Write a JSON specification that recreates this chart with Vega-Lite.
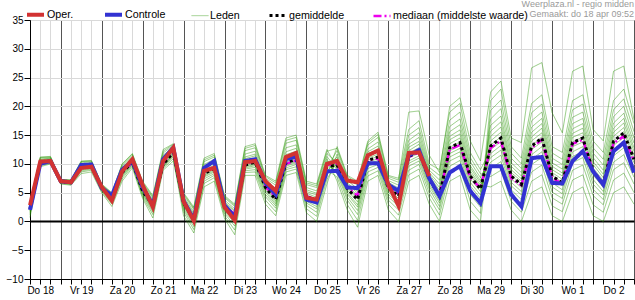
{
"$schema": "https://vega.github.io/schema/vega-lite/v6.json",
"width": 604, "height": 259,
"autosize": {"type": "none"},
"padding": {"left": 30, "top": 20, "right": 1, "bottom": 21},
"background": "white",
"title": {"text": ["Weerplaza.nl - regio midden", "Gemaakt: do 18 apr 09:52"], "anchor": "end", "frame": "group", "fontSize": 9, "font": "Liberation Sans", "fontWeight": "normal", "color": "#9a9a9a", "lineHeight": 10, "offset": 2, "dy": 17},
"config": {"view": {"stroke": "#000", "strokeWidth": 1}, "font": "Liberation Sans"},
"datasets": {"keys": [
{"key":"a","s":"ld"},{"key":"b","s":"ld"},{"key":"c","s":"ld"},{"key":"d","s":"ld"},{"key":"e","s":"ld"},{"key":"f","s":"ld"},{"key":"g","s":"ld"},{"key":"h","s":"ld"},
{"key":"i","s":"ld"},{"key":"j","s":"ld"},{"key":"k","s":"ld"},{"key":"l","s":"ld"},{"key":"m","s":"ld"},{"key":"n","s":"ld"},{"key":"o","s":"ld"},{"key":"p","s":"ld"},
{"key":"md","s":"md"},{"key":"gm","s":"gm"},{"key":"ct","s":"ct"},{"key":"op","s":"op"}]},
"data": {"values": [
{"t":6,"op":2.8,"ct":2.0,"gm":2.2,"md":2.2,"a":0.7,"b":1.1,"c":1.4,"d":1.6,"e":1.8,"f":1.9,"g":2.1,"h":2.2,"i":2.3,"j":2.5,"k":2.6,"l":2.7,"m":2.9,"n":3.1,"o":3.4,"p":3.3},
{"t":12,"op":10.4,"ct":10.0,"gm":10.2,"md":10.2,"a":9.5,"b":9.7,"c":9.8,"d":9.9,"e":10.0,"f":10.1,"g":10.1,"h":10.2,"i":10.3,"j":10.4,"k":10.5,"l":10.7,"m":10.8,"n":11.0,"o":11.2,"p":11.1},
{"t":18,"op":10.5,"ct":10.5,"gm":10.5,"md":10.5,"a":10.0,"b":10.1,"c":10.2,"d":10.3,"e":10.4,"f":10.4,"g":10.5,"h":10.5,"i":10.6,"j":10.7,"k":10.8,"l":10.9,"m":11.0,"n":11.1,"o":11.3,"p":11.2},
{"t":24,"op":7.0,"ct":7.0,"gm":6.9,"md":6.9,"a":6.5,"b":6.6,"c":6.7,"d":6.7,"e":6.8,"f":6.8,"g":6.9,"h":6.9,"i":6.9,"j":7.0,"k":7.0,"l":7.1,"m":7.1,"n":7.2,"o":7.3,"p":7.3},
{"t":30,"op":6.8,"ct":6.8,"gm":6.8,"md":6.8,"a":6.3,"b":6.4,"c":6.5,"d":6.6,"e":6.7,"f":6.7,"g":6.8,"h":6.8,"i":6.8,"j":6.9,"k":6.9,"l":7.0,"m":7.0,"n":7.1,"o":7.2,"p":7.2},
{"t":36,"op":9.3,"ct":9.8,"gm":9.5,"md":9.5,"a":8.3,"b":8.6,"c":8.8,"d":9.0,"e":9.2,"f":9.3,"g":9.4,"h":9.5,"i":9.6,"j":9.7,"k":9.8,"l":10.0,"m":10.1,"n":10.3,"o":10.5,"p":10.4},
{"t":42,"op":9.5,"ct":9.9,"gm":9.6,"md":9.6,"a":8.6,"b":8.9,"c":9.1,"d":9.2,"e":9.3,"f":9.4,"g":9.5,"h":9.6,"i":9.7,"j":9.8,"k":9.9,"l":10.1,"m":10.2,"n":10.4,"o":10.6,"p":10.5},
{"t":48,"op":6.0,"ct":5.8,"gm":5.8,"md":5.8,"a":5.0,"b":5.2,"c":5.4,"d":5.5,"e":5.6,"f":5.7,"g":5.7,"h":5.8,"i":5.9,"j":6.0,"k":6.0,"l":6.1,"m":6.2,"n":6.3,"o":6.5,"p":6.4},
{"t":54,"op":3.6,"ct":4.5,"gm":4.0,"md":4.0,"a":2.6,"b":3.0,"c":3.2,"d":3.4,"e":3.6,"f":3.7,"g":3.9,"h":4.0,"i":4.1,"j":4.2,"k":4.3,"l":4.5,"m":4.6,"n":4.8,"o":5.0,"p":4.9},
{"t":60,"op":8.7,"ct":9.0,"gm":8.5,"md":8.5,"a":7.0,"b":7.4,"c":7.7,"d":7.9,"e":8.1,"f":8.2,"g":8.4,"h":8.5,"i":8.7,"j":8.8,"k":9.0,"l":9.2,"m":9.4,"n":9.7,"o":10.0,"p":9.9},
{"t":66,"op":10.8,"ct":10.5,"gm":10.3,"md":10.3,"a":9.3,"b":9.6,"c":9.8,"d":9.9,"e":10.0,"f":10.1,"g":10.2,"h":10.3,"i":10.5,"j":10.6,"k":10.8,"l":11.0,"m":11.2,"n":11.5,"o":11.8,"p":11.7},
{"t":72,"op":6.3,"ct":6.0,"gm":5.3,"md":5.6,"a":4.0,"b":4.3,"c":4.6,"d":4.8,"e":4.9,"f":5.1,"g":5.2,"h":5.3,"i":5.5,"j":5.7,"k":5.9,"l":6.1,"m":6.3,"n":6.6,"o":7.0,"p":6.8},
{"t":78,"op":2.5,"ct":2.8,"gm":2.8,"md":3.0,"a":0.6,"b":1.2,"c":1.6,"d":1.9,"e":2.2,"f":2.4,"g":2.6,"h":2.8,"i":3.0,"j":3.2,"k":3.4,"l":3.6,"m":3.8,"n":4.1,"o":4.5,"p":4.3},
{"t":84,"op":10.5,"ct":10.8,"gm":9.9,"md":10.1,"a":8.9,"b":9.2,"c":9.4,"d":9.5,"e":9.6,"f":9.7,"g":9.8,"h":10.0,"i":10.2,"j":10.5,"k":10.8,"l":11.1,"m":11.5,"n":11.9,"o":12.5,"p":12.2},
{"t":90,"op":12.8,"ct":12.8,"gm":12.0,"md":12.2,"a":10.5,"b":10.9,"c":11.2,"d":11.4,"e":11.6,"f":11.7,"g":11.9,"h":12.0,"i":12.2,"j":12.3,"k":12.5,"l":12.7,"m":12.9,"n":13.2,"o":13.5,"p":13.4},
{"t":96,"op":3.5,"ct":3.6,"gm":3.2,"md":3.3,"a":2.3,"b":1.0,"c":2.8,"d":1.6,"e":3.4,"f":2.0,"g":4.0,"h":2.6,"i":5.0,"j":3.0,"k":3.6,"l":4.6,"m":3.2,"n":4.3,"o":3.8,"p":4.8},
{"t":102,"op":0.1,"ct":0.3,"gm":0.5,"md":0.6,"a":-0.5,"b":-2.0,"c":0.1,"d":-1.4,"e":0.7,"f":-0.9,"g":1.4,"h":-0.2,"i":2.5,"j":0.3,"k":0.9,"l":2.1,"m":0.5,"n":1.7,"o":1.2,"p":2.3},
{"t":108,"op":8.8,"ct":9.3,"gm":8.3,"md":8.5,"a":7.4,"b":6.0,"c":7.9,"d":6.6,"e":8.6,"f":7.0,"g":9.5,"h":7.7,"i":11.0,"j":8.1,"k":8.9,"l":10.4,"m":8.4,"n":9.9,"o":9.2,"p":10.7},
{"t":114,"op":9.3,"ct":10.5,"gm":9.2,"md":9.5,"a":8.3,"b":7.0,"c":8.8,"d":7.6,"e":9.5,"f":8.0,"g":10.4,"h":8.6,"i":11.8,"j":9.0,"k":9.8,"l":11.2,"m":9.3,"n":10.8,"o":10.1,"p":11.5},
{"t":120,"op":2.5,"ct":2.8,"gm":2.5,"md":2.6,"a":1.7,"b":0.5,"c":2.1,"d":1.0,"e":2.7,"f":1.4,"g":3.4,"h":1.9,"i":4.5,"j":2.3,"k":2.9,"l":4.1,"m":2.5,"n":3.7,"o":3.2,"p":4.3},
{"t":126,"op":0.2,"ct":0.8,"gm":1.0,"md":1.3,"a":-0.3,"b":-2.3,"c":0.4,"d":-1.5,"e":1.2,"f":-0.8,"g":1.9,"h":0.1,"i":3.0,"j":0.7,"k":1.4,"l":2.6,"m":1.0,"n":2.2,"o":1.7,"p":2.8},
{"t":132,"op":10.3,"ct":10.5,"gm":9.8,"md":10.0,"a":9.1,"b":8.0,"c":9.5,"d":8.5,"e":10.2,"f":8.8,"g":11.2,"h":9.3,"i":13.0,"j":9.7,"k":10.5,"l":12.3,"m":9.9,"n":11.7,"o":10.9,"p":12.7},
{"t":138,"op":10.5,"ct":10.8,"gm":10.3,"md":10.5,"a":9.4,"b":8.0,"c":9.9,"d":8.6,"e":10.7,"f":9.0,"g":11.7,"h":9.7,"i":13.5,"j":10.1,"k":11.0,"l":12.8,"m":10.4,"n":12.2,"o":11.4,"p":13.2},
{"t":144,"op":7.0,"ct":6.7,"gm":5.9,"md":6.0,"a":4.7,"b":3.0,"c":5.4,"d":3.7,"e":6.2,"f":4.3,"g":6.8,"h":5.1,"i":8.0,"j":5.7,"k":6.4,"l":7.5,"m":5.9,"n":7.2,"o":6.6,"p":7.8},
{"t":150,"op":5.3,"ct":4.7,"gm":3.8,"md":4.3,"a":2.7,"b":1.0,"c":3.3,"d":1.7,"e":4.2,"f":2.3,"g":5.2,"h":3.0,"i":7.0,"j":3.6,"k":4.5,"l":6.3,"m":3.9,"n":5.7,"o":4.9,"p":6.7},
{"t":156,"op":11.2,"ct":10.8,"gm":10.2,"md":10.0,"a":9.3,"b":8.0,"c":9.8,"d":8.6,"e":10.7,"f":9.0,"g":12.1,"h":9.6,"i":14.5,"j":10.0,"k":11.1,"l":13.6,"m":10.3,"n":12.8,"o":11.6,"p":14.1},
{"t":162,"op":11.9,"ct":11.3,"gm":10.8,"md":10.6,"a":9.9,"b":8.5,"c":10.4,"d":9.1,"e":11.3,"f":9.5,"g":12.7,"h":10.2,"i":15.0,"j":10.6,"k":11.7,"l":14.1,"m":10.9,"n":13.3,"o":12.2,"p":14.6},
{"t":168,"op":4.1,"ct":3.8,"gm":4.3,"md":4.4,"a":3.2,"b":1.5,"c":3.8,"d":2.2,"e":4.6,"f":2.8,"g":5.5,"h":3.5,"i":7.0,"j":4.1,"k":4.9,"l":6.4,"m":4.4,"n":5.9,"o":5.2,"p":6.7},
{"t":174,"op":3.8,"ct":3.3,"gm":3.6,"md":3.7,"a":2.2,"b":0.0,"c":3.0,"d":0.9,"e":3.9,"f":1.6,"g":4.9,"h":2.6,"i":6.5,"j":3.3,"k":4.2,"l":5.9,"m":3.7,"n":5.3,"o":4.6,"p":6.2},
{"t":180,"op":10.0,"ct":8.7,"gm":9.5,"md":9.8,"a":8.3,"b":6.5,"c":9.0,"d":7.3,"e":9.9,"f":7.9,"g":10.9,"h":8.7,"i":12.5,"j":9.3,"k":10.2,"l":11.8,"m":9.6,"n":11.3,"o":10.5,"p":12.2},
{"t":186,"op":10.5,"ct":8.8,"gm":9.8,"md":10.0,"a":9.9,"b":11.7,"c":7.7,"d":10.5,"e":8.7,"f":13.0,"g":7.0,"h":10.9,"i":9.3,"j":12.3,"k":8.3,"l":10.2,"m":11.2,"n":9.0,"o":9.6,"p":12.7},
{"t":192,"op":7.1,"ct":5.9,"gm":5.7,"md":5.9,"a":5.7,"b":7.1,"c":2.9,"d":6.2,"e":4.2,"f":8.0,"g":2.0,"h":6.5,"i":5.0,"j":7.5,"k":3.7,"l":6.0,"m":6.7,"n":4.7,"o":5.4,"p":7.8},
{"t":198,"op":6.8,"ct":5.8,"gm":3.8,"md":4.5,"a":3.9,"b":5.7,"c":0.2,"d":4.5,"e":1.9,"f":7.0,"g":-1.0,"h":4.9,"i":2.9,"j":6.3,"k":1.2,"l":4.2,"m":5.2,"n":2.5,"o":3.4,"p":6.7},
{"t":204,"op":11.5,"ct":10.1,"gm":10.6,"md":10.6,"a":10.7,"b":12.6,"c":7.9,"d":11.3,"e":9.2,"f":14.0,"g":7.0,"h":11.7,"i":10.0,"j":13.3,"k":8.6,"l":11.0,"m":12.1,"n":9.6,"o":10.3,"p":13.7},
{"t":210,"op":12.3,"ct":10.1,"gm":11.2,"md":11.0,"a":11.3,"b":13.8,"c":8.8,"d":12.1,"e":9.9,"f":15.5,"g":8.0,"h":12.6,"i":10.6,"j":14.6,"k":9.4,"l":11.7,"m":13.1,"n":10.3,"o":10.9,"p":15.1},
{"t":216,"op":6.4,"ct":6.4,"gm":5.8,"md":5.9,"a":5.8,"b":7.1,"c":3.0,"d":6.3,"e":4.3,"f":8.0,"g":2.0,"h":6.5,"i":5.1,"j":7.5,"k":3.7,"l":6.1,"m":6.8,"n":4.7,"o":5.5,"p":7.8},
{"t":222,"op":2.7,"ct":5.3,"gm":4.4,"md":4.8,"a":4.5,"b":6.3,"c":1.1,"d":5.1,"e":2.6,"f":7.5,"g":0.0,"h":5.4,"i":3.6,"j":6.8,"k":2.0,"l":4.8,"m":5.8,"n":3.2,"o":4.0,"p":7.2},
{"t":228,"op":11.9,"ct":11.5,"gm":11.3,"md":11.2,"a":11.4,"b":14.1,"c":8.1,"d":12.3,"e":9.6,"f":16.0,"g":7.0,"h":12.9,"i":10.5,"j":15.0,"k":8.9,"l":11.9,"m":13.4,"n":10.1,"o":11.0,"p":19.0},
{"t":234,"op":12.0,"ct":12.4,"gm":12.2,"md":12.0,"a":12.3,"b":15.4,"c":9.1,"d":13.4,"e":10.5,"f":17.5,"g":8.0,"h":13.9,"i":11.4,"j":16.3,"k":9.9,"l":12.8,"m":14.6,"n":11.0,"o":11.9,"p":19.2},
{"t":240,"op":7.9,"ct":7.5,"gm":7.3,"md":7.4,"a":7.4,"b":8.9,"c":4.1,"d":7.9,"e":5.6,"f":10.0,"g":3.0,"h":8.2,"i":6.5,"j":9.4,"k":4.9,"l":7.6,"m":8.5,"n":6.1,"o":7.0,"p":11.5},
{"t":246,"ct":4.4,"gm":4.4,"md":4.6,"a":4.5,"b":7.2,"c":1.1,"d":5.4,"e":2.6,"f":9.0,"g":0.0,"h":5.9,"i":3.6,"j":8.0,"k":2.0,"l":5.0,"m":6.5,"n":3.2,"o":4.0,"p":8.5},
{"t":252,"ct":8.5,"gm":12.8,"md":12.5,"a":12.9,"b":16.5,"c":8.5,"d":14.2,"e":10.5,"f":19.0,"g":7.0,"h":14.8,"i":11.8,"j":17.6,"k":9.6,"l":13.5,"m":15.6,"n":11.2,"o":12.3,"p":20.0},
{"t":258,"ct":9.6,"gm":13.7,"md":13.3,"a":13.8,"b":17.8,"c":9.4,"d":15.2,"e":11.4,"f":20.5,"g":8.0,"h":15.9,"i":12.7,"j":19.0,"k":10.6,"l":14.5,"m":16.8,"n":12.1,"o":13.2,"p":21.5},
{"t":264,"ct":5.3,"gm":7.9,"md":7.6,"a":8.0,"b":10.4,"c":3.5,"d":8.8,"e":5.5,"f":12.0,"g":2.0,"h":9.3,"i":6.8,"j":11.1,"k":4.7,"l":8.4,"m":9.7,"n":6.2,"o":7.4,"p":14.0},
{"t":270,"ct":3.2,"gm":5.6,"md":5.8,"a":5.7,"b":7.6,"c":1.4,"d":6.3,"e":3.4,"f":9.0,"g":0.0,"h":6.7,"i":4.6,"j":8.3,"k":2.5,"l":6.0,"m":7.1,"n":4.0,"o":5.2,"p":10.5},
{"t":276,"ct":9.6,"gm":13.1,"md":12.8,"a":15.7,"b":11.1,"c":19.3,"d":6.0,"e":17.8,"f":12.5,"g":14.0,"h":9.2,"i":16.7,"j":7.8,"k":21.0,"l":11.8,"m":10.3,"n":14.8,"o":13.3,"p":22.5},
{"t":282,"ct":9.6,"gm":14.5,"md":14.0,"a":17.3,"b":12.4,"c":21.1,"d":7.0,"e":19.6,"f":13.9,"g":15.5,"h":10.4,"i":18.3,"j":8.9,"k":23.0,"l":13.2,"m":11.5,"n":16.4,"o":14.7,"p":24.4},
{"t":288,"ct":4.7,"gm":7.9,"md":7.5,"a":9.6,"b":6.2,"c":11.9,"d":2.0,"e":11.0,"f":7.4,"g":8.5,"h":4.7,"i":10.2,"j":3.5,"k":13.0,"l":6.8,"m":5.5,"n":9.0,"o":8.0,"p":14.5},
{"t":294,"ct":2.6,"gm":6.4,"md":6.3,"a":7.9,"b":4.6,"c":10.0,"d":0.0,"e":9.2,"f":5.9,"g":7.0,"h":2.9,"i":8.5,"j":1.6,"k":11.0,"l":5.2,"m":3.8,"n":7.4,"o":6.5,"p":13.7},
{"t":300,"ct":11.0,"gm":13.1,"md":12.8,"a":15.5,"b":10.8,"c":18.9,"d":5.0,"e":17.5,"f":12.5,"g":14.0,"h":8.6,"i":16.4,"j":7.0,"k":20.5,"l":11.6,"m":9.9,"n":14.7,"o":13.2,"p":26.7},
{"t":306,"ct":11.2,"gm":14.5,"md":14.2,"a":17.0,"b":12.1,"c":20.4,"d":6.0,"e":19.0,"f":13.8,"g":15.4,"h":9.8,"i":17.9,"j":8.1,"k":22.0,"l":13.0,"m":11.1,"n":16.2,"o":14.7,"p":27.6},
{"t":312,"ct":6.7,"gm":7.9,"md":7.6,"a":9.6,"b":6.0,"c":11.9,"d":1.0,"e":11.0,"f":7.3,"g":8.5,"h":4.1,"i":10.2,"j":2.7,"k":13.0,"l":6.7,"m":5.1,"n":9.0,"o":8.0,"p":18.9},
{"t":318,"ct":6.6,"gm":6.7,"md":6.5,"a":8.4,"b":4.8,"c":10.8,"d":0.0,"e":9.9,"f":6.2,"g":7.3,"h":3.0,"i":9.1,"j":1.7,"k":12.0,"l":5.5,"m":4.0,"n":7.9,"o":6.8,"p":15.4},
{"t":324,"ct":10.5,"gm":13.7,"md":13.5,"a":16.1,"b":11.3,"c":19.4,"d":5.0,"e":18.1,"f":13.0,"g":14.6,"h":8.9,"i":17.0,"j":7.2,"k":21.0,"l":12.1,"m":10.2,"n":15.3,"o":13.8,"p":26.1},
{"t":330,"ct":12.2,"gm":14.5,"md":14.2,"a":17.0,"b":12.1,"c":20.4,"d":6.0,"e":19.0,"f":13.8,"g":15.4,"h":9.8,"i":17.9,"j":8.1,"k":22.0,"l":13.0,"m":11.1,"n":16.2,"o":14.7,"p":27.0},
{"t":336,"ct":8.7,"gm":8.7,"md":8.8,"a":10.4,"b":6.5,"c":12.8,"d":1.0,"e":11.9,"f":8.1,"g":9.3,"h":4.5,"i":11.1,"j":2.9,"k":14.0,"l":7.3,"m":5.6,"n":9.9,"o":8.8,"p":16.0},
{"t":342,"ct":6.4,"gm":6.4,"md":6.6,"a":8.2,"b":4.6,"c":10.8,"d":0.0,"e":9.8,"f":5.9,"g":7.1,"h":2.9,"i":8.9,"j":1.6,"k":12.0,"l":5.2,"m":3.8,"n":7.6,"o":6.5,"p":14.0},
{"t":348,"ct":12.2,"gm":13.9,"md":13.6,"a":16.2,"b":11.4,"c":19.4,"d":5.0,"e":18.2,"f":13.2,"g":14.8,"h":9.0,"i":17.1,"j":7.2,"k":21.0,"l":12.3,"m":10.3,"n":15.5,"o":14.0,"p":26.1},
{"t":354,"ct":13.7,"gm":15.4,"md":14.8,"a":17.9,"b":12.8,"c":21.3,"d":6.0,"e":20.0,"f":14.6,"g":16.3,"h":10.2,"i":18.8,"j":8.4,"k":23.0,"l":13.7,"m":11.6,"n":17.1,"o":15.6,"p":27.0},
{"t":360,"ct":8.5,"gm":10.8,"md":10.5,"a":12.8,"b":8.6,"c":15.6,"d":3.0,"e":14.5,"f":10.2,"g":11.5,"h":6.5,"i":13.6,"j":5.0,"k":17.0,"l":9.4,"m":7.7,"n":12.2,"o":10.9,"p":17.7}
]},
"transform": [
  {"fold": ["a","b","c","d","e","f","g","h","i","j","k","l","m","n","o","p","md","gm","ct","op"], "as": ["key", "v"]},
  {"lookup": "key", "from": {"data": {"name": "keys"}, "key": "key", "fields": ["s"]}}
],
"mark": {"type": "line"},
"encoding": {
  "x": {"field": "t", "type": "quantitative", "scale": {"domain": [6, 360], "nice": false, "zero": false},
    "axis": {"title": null, "values": [6,12,18,24,30,36,42,48,54,60,66,72,78,84,90,96,102,108,114,120,126,132,138,144,150,156,162,168,174,180,186,192,198,204,210,216,222,228,234,240,246,252,258,264,270,276,282,288,294,300,306,312,318,324,330,336,342,348,354,360],
      "labelExpr": "datum.value % 24 === 12 ? ['Do 18','Vr 19','Za 20','Zo 21','Ma 22','Di 23','Wo 24','Do 25','Vr 26','Za 27','Zo 28','Ma 29','Di 30','Wo 1','Do 2'][floor(datum.value / 24)] : ''",
      "grid": true, "gridColor": {"condition": {"test": "datum.value % 24 === 0", "value": "#555555"}, "value": "#d9d9d9"},
      "tickSize": 5, "tickColor": "#000", "domainColor": "#000", "labelFontSize": 10, "labelColor": "#000", "labelPadding": 1, "labelOverlap": false, "labelFlush": false, "labelFont": "Liberation Sans"}},
  "y": {"field": "v", "type": "quantitative", "scale": {"domain": [-10, 35], "nice": false, "zero": false},
    "axis": {"title": null, "values": [-10,-5,0,5,10,15,20,25,30,35], "grid": true, "labelOverlap": false,
      "gridColor": {"condition": {"test": "datum.value === 0", "value": "#000"}, "value": "#d9d9d9"},
      "gridWidth": {"condition": {"test": "datum.value === 0", "value": 2}, "value": 1},
      "tickSize": 6, "tickColor": "#000", "domainColor": "#000", "labelFontSize": 10, "labelColor": "#000", "labelPadding": 1, "labelFont": "Liberation Sans"}},
  "detail": {"field": "key"},
  "color": {"field": "s", "type": "nominal",
    "scale": {"domain": ["op","ct","ld","gm","md"], "range": ["#d23232","#3232d2","#2f9a0c","#000000","#ee00ee"]},
    "legend": {"orient": "none", "legendX": -5, "legendY": -16, "direction": "horizontal", "title": null,
      "symbolType": "stroke", "symbolSize": 289, "labelFontSize": 10.7, "labelFont": "Liberation Sans",
      "labelColor": "#000", "labelOffset": 1, "columnPadding": 23, "labelLimit": 400,
      "labelExpr": "{'op':'Oper.','ct':'Controle','ld':'Leden','gm':'gemiddelde','md':'mediaan (middelste waarde)'}[datum.label]"}},
  "strokeDash": {"field": "s", "type": "nominal",
    "scale": {"domain": ["op","ct","ld","gm","md"], "range": [[1,0],[1,0],[1,0],[3,3],[8,3,2,3]]},
    "legend": {"orient": "none", "legendX": -5, "legendY": -16, "direction": "horizontal", "title": null,
      "symbolType": "stroke", "symbolSize": 289, "labelFontSize": 10.7, "labelFont": "Liberation Sans",
      "labelColor": "#000", "labelOffset": 1, "columnPadding": 23, "labelLimit": 400,
      "labelExpr": "{'op':'Oper.','ct':'Controle','ld':'Leden','gm':'gemiddelde','md':'mediaan (middelste waarde)'}[datum.label]"}},
  "strokeWidth": {"field": "s", "type": "nominal",
    "scale": {"type": "ordinal", "domain": ["op","ct","ld","gm","md"], "range": [4,4,1,3,2.5]},
    "legend": {"orient": "none", "legendX": -5, "legendY": -16, "direction": "horizontal", "title": null,
      "symbolType": "stroke", "symbolSize": 289, "labelFontSize": 10.7, "labelFont": "Liberation Sans",
      "labelColor": "#000", "labelOffset": 1, "columnPadding": 23, "labelLimit": 400,
      "labelExpr": "{'op':'Oper.','ct':'Controle','ld':'Leden','gm':'gemiddelde','md':'mediaan (middelste waarde)'}[datum.label]"}},
  "opacity": {"field": "s", "type": "nominal",
    "scale": {"type": "ordinal", "domain": ["op","ct","ld","gm","md"], "range": [1,1,0.5,1,1]},
    "legend": {"orient": "none", "legendX": -5, "legendY": -16, "direction": "horizontal", "title": null,
      "symbolType": "stroke", "symbolSize": 289, "labelFontSize": 10.7, "labelFont": "Liberation Sans",
      "labelColor": "#000", "labelOffset": 1, "columnPadding": 23, "labelLimit": 400,
      "labelExpr": "{'op':'Oper.','ct':'Controle','ld':'Leden','gm':'gemiddelde','md':'mediaan (middelste waarde)'}[datum.label]"}}
}
}
